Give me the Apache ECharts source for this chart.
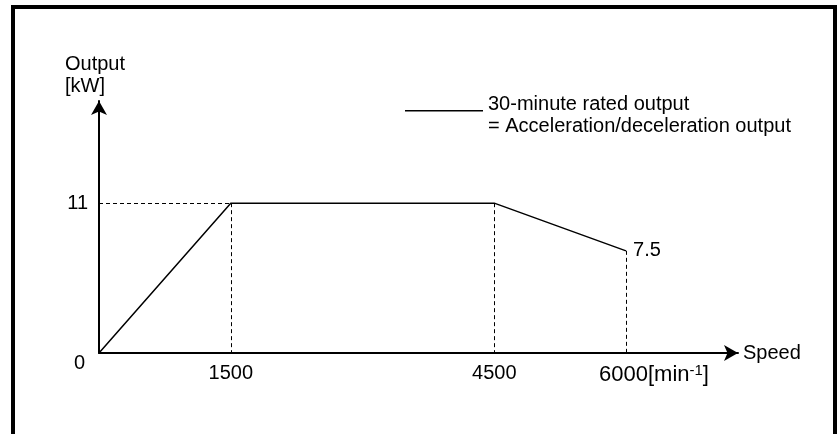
<!DOCTYPE html>
<html>
<head>
<meta charset="utf-8">
<script src="https://cdn.jsdelivr.net/npm/echarts@6/dist/echarts.min.js"></script>
<style>
  html, body { margin: 0; padding: 0; background: #fff; overflow: hidden; }
  #chart { width: 839px; height: 434px; }
  #frame { position: absolute; left: 11px; top: 5px; width: 826px; height: 600px;
           box-sizing: border-box; border: 4px solid #000; pointer-events: none; }
</style>
</head>
<body>
<div id="chart"></div>
<div id="frame"></div>
<script>
// ---- data ----
const speeds = [0, 1500, 4500, 6000];        // min^-1
const outputs = [0, 11, 11, 7.5];            // kW
const xTickValues = [1500, 4500, 6000];
const yTickValues = [0, 11];
const seriesName = '30-minute rated output\n= Acceleration/deceleration output';
const xName = 'Speed';
const yName = 'Output\n[kW]';

const FONT = 'Liberation Sans, Arial, sans-serif';
const FS = 20;

const points = speeds.map((s, i) => [s, outputs[i]]);
const lastIdx = points.length - 1;

// dashed guide lines built from the data
const guides = [];
guides.push([{ coord: [0, outputs[1]] }, { coord: [speeds[1], outputs[1]] }]);
for (let i = 1; i < points.length; i++) {
  guides.push([{ coord: [speeds[i], outputs[i]] }, { coord: [speeds[i], 0] }]);
}

const chart = echarts.init(document.getElementById('chart'), null, { renderer: 'canvas' });
chart.setOption({
  animation: false,
  textStyle: { fontFamily: FONT, fontSize: FS, color: '#000' },
  grid: { left: 99, right: 101, top: 101, bottom: 81, containLabel: false },
  legend: {
    left: 405, top: 93, padding: 0,
    data: [{ name: seriesName, icon: 'path://M0,0H78V1.5H0Z M0,10L78,10Z' }],
    itemWidth: 78, itemHeight: 10, itemGap: 5, symbolKeepAspect: false,
    itemStyle: { color: '#000', borderWidth: 0 },
    textStyle: { fontFamily: FONT, fontSize: FS, color: '#000', lineHeight: 22 },
    selectedMode: false
  },
  xAxis: {
    type: 'value', min: 0, max: 7275,
    name: xName, nameLocation: 'end', nameGap: 5,
    nameTextStyle: { fontFamily: FONT, fontSize: FS, color: '#000', padding: [8, 0, 0, 0] },
    axisLine: { show: true, onZero: false, symbol: ['none', 'arrow'], symbolSize: [12, 14],
                lineStyle: { color: '#000', width: 2 } },
    axisTick: { show: false },
    splitLine: { show: false },
    axisLabel: {
      customValues: xTickValues, margin: 10,
      fontFamily: FONT, fontSize: FS, color: '#000',
      formatter: v => v === 6000 ? '{p|6000}{n|[min}{s|-1}{n|]}' : String(v),
      rich: {
        p: { fontFamily: FONT, fontSize: 22, color: '#000', lineHeight: 24, padding: [0, 0, 0, 56] },
        n: { fontFamily: FONT, fontSize: 22, color: '#000', lineHeight: 24 },
        s: { fontFamily: FONT, fontSize: 15, color: '#000', lineHeight: 24, verticalAlign: 'top', padding: [0, 0, 8, 0] }
      }
    }
  },
  yAxis: {
    type: 'value', min: 0, max: 18.5,
    name: yName, nameLocation: 'end', nameGap: 4,
    nameTextStyle: { fontFamily: FONT, fontSize: FS, color: '#000', align: 'left', verticalAlign: 'bottom',
                     lineHeight: 22, padding: [0, 0, 0, -34] },
    axisLine: { show: true, onZero: false, symbol: ['none', 'arrow'], symbolSize: [12, 14],
                lineStyle: { color: '#000', width: 2 } },
    axisTick: { show: false },
    splitLine: { show: false },
    axisLabel: {
      customValues: yTickValues, margin: 11,
      fontFamily: FONT, fontSize: FS, color: '#000',
      formatter: v => v === 0 ? '{z|0}' : String(v),
      rich: { z: { fontFamily: FONT, fontSize: FS, color: '#000', padding: [20, 3, 0, 0] } }
    }
  },
  series: [{
    name: seriesName,
    type: 'line',
    data: points,
    showSymbol: false,
    symbol: 'none',
    lineStyle: { color: '#000', width: 1.5 },
    itemStyle: { color: '#000' },
    endLabel: {
      show: true, distance: 7,
      fontFamily: FONT, fontSize: FS, color: '#000',
      formatter: () => String(outputs[lastIdx])
    },
    markLine: {
      silent: true, symbol: 'none', animation: false,
      label: { show: false },
      lineStyle: { color: '#000', width: 1, type: [4, 3] },
      data: guides
    }
  }]
});
</script>
</body>
</html>
